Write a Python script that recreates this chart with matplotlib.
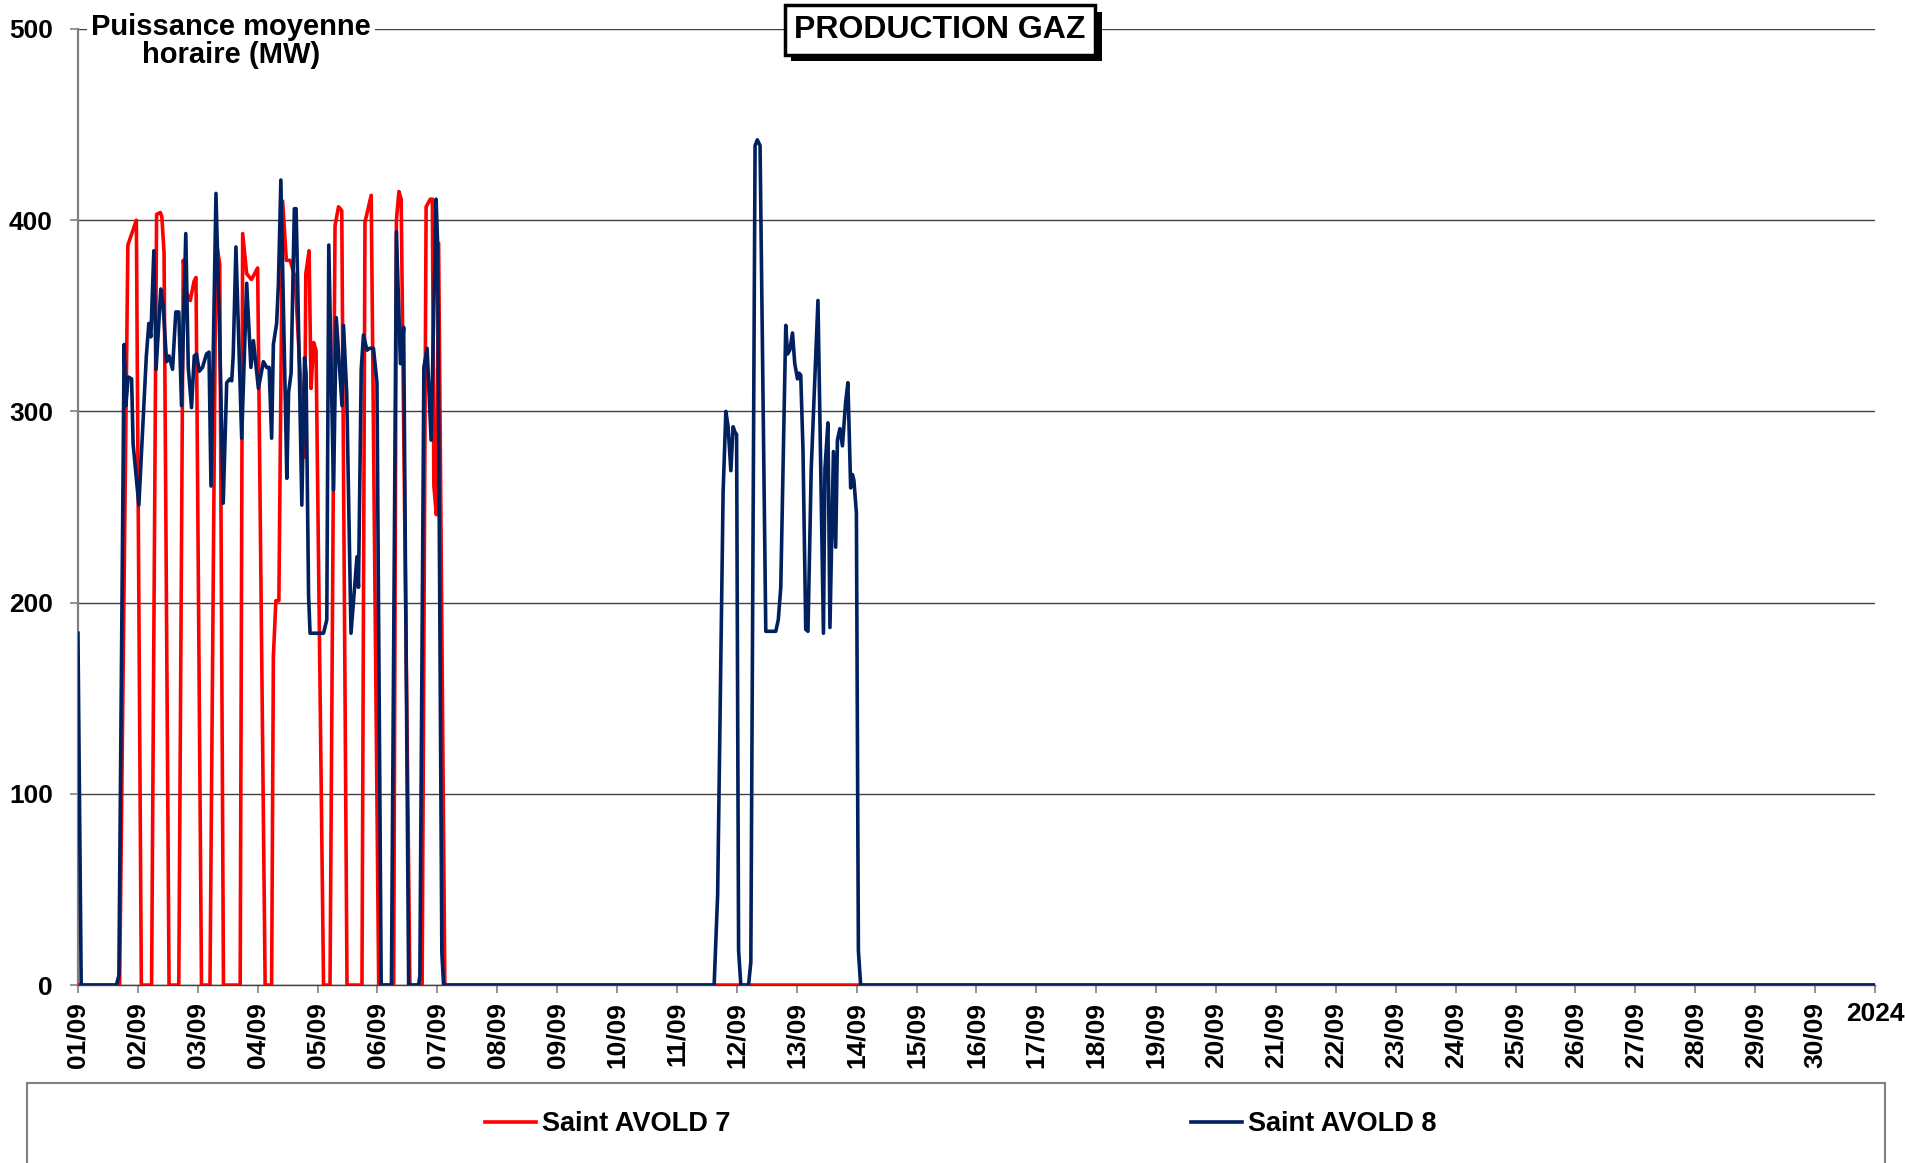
import matplotlib
matplotlib.use('Agg')
import matplotlib.pyplot as plt
from matplotlib.patches import Rectangle
from matplotlib import patheffects

plt.rcParams['font.family'] = ['Liberation Sans', 'DejaVu Sans']
plt.rcParams['font.weight'] = 'bold'

# Saint AVOLD 7 (heure depuis le 01/09 00h, MW)
st7_heures = [0, 16.7, 20, 23.4, 25.4, 29.5, 31.5, 33, 33.6, 34.5, 36.5, 40.4, 42.2, 43.5, 45,
              46.5, 47.3, 49.5, 52.9, 55.3, 56.8, 58.3, 65, 66, 67.6, 69.5, 70.8, 72, 75, 77.6,
              78.3, 79.3, 80.5, 82, 83.5, 85, 87, 90.8, 91.3, 92.6, 93.4, 94.4, 95.4, 98.4, 101,
              103, 104.4, 105.7, 107.8, 113.8, 115, 117.5, 120.5, 126.5, 127.6, 128.6, 129.5, 133,
              137.9, 139.5, 141.2, 142, 142.6, 143.6, 144.5, 147, 720]
st7_mw = [0, 0, 387, 400, 0, 0, 403, 404, 402, 383, 0, 0, 379, 362, 358,
          368, 370, 0, 0, 390, 377, 0, 0, 393, 372, 369, 372, 375, 0, 0,
          172, 201, 201, 410, 379, 379, 370, 276, 372, 384, 312, 336, 332, 0, 0,
          397, 407, 405, 0, 0, 399, 413, 0, 0, 400, 415, 411, 0,
          0, 407, 411, 411, 261, 246, 388, 0, 0]

# Saint AVOLD 8
st8_heures = [0, 1.3, 15.4, 16.4, 18.5, 19.2, 20.1, 21.5, 22.1, 24.4, 27.4, 28.4, 29.2, 30.4,
              31.3, 33.2, 34.1, 35.5, 36.5, 37.9, 39.2, 40.4, 41.5, 43.2, 44.2, 45.5, 46.6, 47.5,
              48.6, 49.9, 51.5, 52.5, 53.3, 55.3, 56.9, 58.2, 59.6, 60.9, 61.6, 62.2, 63.3, 65.6,
              67.6, 69.3, 70.3, 72.3, 74.3, 75.6, 76.6, 77.6, 78.3, 79.6, 80.3, 81.3, 83.7, 84.4,
              85.4, 86.7, 87.4, 88, 89.7, 90.8, 91.4, 92.4, 93, 98.4, 99.7, 100.5, 102.4, 103.5,
              105.8, 106.4, 107.7, 109.4, 111.8, 112.4, 113.5, 114.4, 115.8, 116.8, 118.4, 119.8,
              121.5, 125.6, 127.6, 129.2, 129.6, 130.5, 132.5, 136.5, 137, 138.6, 139.9, 141.5,
              143.5, 144.1, 145.8, 146.5,
              254.9, 256.3, 258.5, 259.6, 260.5, 261.6, 262.5, 263.3, 263.9, 264.7, 265.6, 268.7,
              269.6, 271.3, 272.2, 273.3, 275.6, 279.6, 280.6, 281.6, 283.6, 284.3, 285.2, 286.3,
              287.2, 288.3, 288.9, 289.6, 290.5, 291.6, 292.5, 293.8, 296.5, 298.7, 299.3, 300.5,
              301.3, 302.7, 303.6, 304.3, 305.3, 306.3, 307.6, 308.5, 309.6, 310.3, 310.9, 311.9,
              312.7, 313.6, 720]
st8_mw = [184, 0, 0, 5, 335, 303, 318, 317, 283, 251, 329, 346, 339, 384,
          322, 364, 356, 326, 329, 322, 352, 352, 303, 393, 323, 302, 329, 330,
          321, 323, 330, 331, 261, 414, 332, 252, 315, 317, 316, 329, 386, 286,
          367, 323, 337, 312, 326, 323, 323, 286, 335, 346, 366, 421, 265, 310,
          320, 406, 406, 370, 251, 328, 320, 204, 184, 184, 191, 387, 259, 349,
          303, 345, 309, 184, 224, 208, 322, 340, 332, 333, 333, 315,
          0, 0, 394, 325, 325, 344, 0, 0, 5, 323, 333, 285,
          411, 388, 17, 0,
          0, 47, 258, 300, 292, 269, 292, 289, 288, 18, 0, 0,
          12, 439, 442, 439, 185, 185, 191, 208, 345, 330, 332, 341,
          325, 317, 320, 319, 280, 186, 185, 270, 358, 184, 270, 294,
          187, 279, 229, 285, 291, 282, 305, 315, 260, 267, 264, 247,
          18, 0, 0]

jours = ['%02d/09' % d for d in range(1, 31)] + ['2024']

fig = plt.figure(figsize=(19.06, 11.63), dpi=100)
ax = fig.add_axes([0.0409, 0.1530, 0.9428, 0.8221])

ax.plot(st7_heures, st7_mw, color='#FF0000', lw=2.6, label='Saint AVOLD 7', zorder=3)
ax.plot(st8_heures, st8_mw, color='#002060', lw=2.6, label='Saint AVOLD 8', zorder=4)

ax.set_xlim(0, 720)
ax.set_ylim(0, 500)
ax.set_yticks(range(0, 501, 100))
ax.set_yticklabels([str(v) for v in range(0, 501, 100)], fontsize=19, fontweight='bold')
ax.set_xticks(range(0, 721, 24))
ax.set_xticklabels(jours, fontsize=19, fontweight='bold')
for i, lab in enumerate(ax.get_xticklabels()):
    if i < 30:
        lab.set_rotation(90)
        lab.set_ha('center')
        lab.set_va('top')
ax.tick_params(axis='x', direction='out', length=6, width=1.2, color='#808080', pad=6)
ax.tick_params(axis='y', direction='out', length=6, width=1.2, color='#808080', pad=12)

ax.grid(axis='y', color='#404040', lw=1.0)
ax.set_axisbelow(True)
for s in ['top', 'right']:
    ax.spines[s].set_visible(False)
ax.spines['left'].set_color('#808080')
ax.spines['left'].set_linewidth(1.6)
ax.spines['bottom'].set_color('#404040')
ax.spines['bottom'].set_linewidth(1.0)

# libelle de l'axe Y
fig.text(231 / 1906, 1 - 41 / 1163, 'Puissance moyenne\nhoraire (MW)', ha='center', va='center',
         fontsize=21, fontweight='bold', linespacing=1.0,
         bbox=dict(boxstyle='square,pad=0.15', fc='white', ec='none'))

# titre avec ombre portee
titre = fig.text(940 / 1906, 1 - 30 / 1163, 'PRODUCTION GAZ', ha='center', va='center',
                 fontsize=23, fontweight='bold', color='black',
                 bbox=dict(boxstyle='square,pad=0.3', fc='white', ec='black', lw=2.5))
titre.get_bbox_patch().set_path_effects([
    patheffects.SimplePatchShadow(offset=(4.5, -4.5), shadow_rgbFace='black', alpha=1.0),
    patheffects.Normal()])

# cadre de legende
fig.patches.append(Rectangle((27 / 1906, -0.02), (1885 - 27) / 1906, (1163 - 1083) / 1163 + 0.02,
                             transform=fig.transFigure, fc='none', ec='#808080', lw=1.5))
fig.legend(loc='center', bbox_to_anchor=(0.504, 1 - 1124 / 1163), ncol=2, frameon=False,
           handlelength=1.9, handletextpad=0.2, columnspacing=17.0,
           prop={'weight': 'bold', 'size': 19.5})

fig.savefig('out.png', dpi=100)
